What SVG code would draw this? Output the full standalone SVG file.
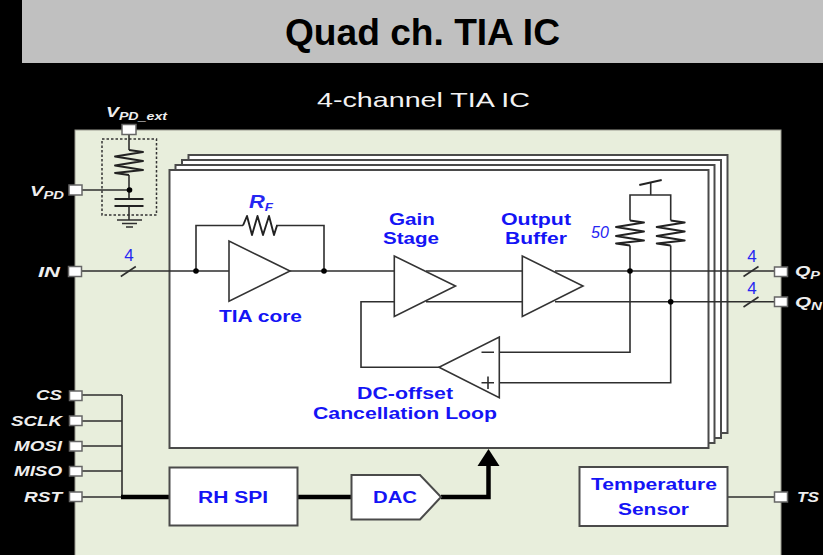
<svg xmlns="http://www.w3.org/2000/svg" width="823" height="555" viewBox="0 0 823 555">
<defs>
<style>
text{font-family:"Liberation Sans",Arial,sans-serif}
.w{fill:none;stroke:#2e2e2e;stroke-width:1.6}
.r{fill:none;stroke:#222;stroke-width:1.9;stroke-linejoin:round}
.t{fill:none;stroke:#000;stroke-width:4.500}
.box{fill:#fff;stroke:#4a4a4a;stroke-width:2}
.amp{fill:#fff;stroke:#333;stroke-width:1.6}
.pad{fill:#fff;stroke:#666;stroke-width:1.5}
.b{fill:#1414f5;font-weight:bold;font-size:16px;text-anchor:middle}
.bi{fill:#2626f2;font-size:17px;text-anchor:middle}
.l{fill:#eee;font-weight:bold;font-style:italic;font-size:14px;text-anchor:end}
.ls{fill:#eee;font-weight:bold;font-style:italic;font-size:15px}
.s{font-size:11px}
.d{fill:#000}
</style>
<path id="res" class="r" d="M0 -12.500L14 -10.500L-14 -6L14 -1.500L-14 3L14 7.500L-14 10.500L0 12.500"/>
<path id="tick" class="w" d="M-7.500 5L7.500 -5"/>
</defs>
<rect width="823" height="555" fill="#000"/>
<rect id="title-bar" x="22" y="0" width="801" height="63" fill="#c0c0c0"/>
<text x="422.500" y="45" font-size="36" font-weight="bold" text-anchor="middle" fill="#000" textLength="275" lengthAdjust="spacingAndGlyphs">Quad ch. TIA IC</text>
<text x="423.500" y="107" font-size="21" text-anchor="middle" fill="#f2f2f2" textLength="213" lengthAdjust="spacingAndGlyphs">4-channel TIA IC</text>
<rect id="chip" x="75" y="130" width="706" height="426" fill="#e8eedc" stroke="#9a9a90" stroke-width="1"/>

<g id="channel-stack">
<rect class="box" x="188.500" y="155" width="539" height="278"/>
<rect class="box" x="182" y="160" width="539" height="278"/>
<rect class="box" x="175.500" y="165" width="539" height="278"/>
<rect class="box" x="169.500" y="170" width="539" height="278"/>
</g>

<g id="connectors">
<path class="w" d="M81 271H395M426 271H522M555 271H775"/>
<path class="w" d="M81 190H129"/>
<path class="w" d="M196 271V225.500H243M276 225.500H324V271"/>
<path class="w" d="M395 301.700H361V367.300H440M499 352.300H630V271M499 382.700H670.700V301.700M426 301.700H522M555 301.700H775"/>
<path class="w" d="M630 220.500V195H670.700V220.500M630 245.500V271M670.700 245.500V301.700M650.700 195V183"/>
<path class="r" d="M639.300 185L661.700 180"/>
<path class="w" d="M81 395H122M81 421H122M81 446H122M81 471H122M81 497H122M122 395V497"/>
<path class="w" d="M727 497H775"/>
<path class="t" d="M121 497H170M296 497H352M441 497H488.500V464"/>
<path d="M488.500 449L499.500 466H477.500Z" fill="#000"/>
<circle class="d" cx="196" cy="271" r="2.800"/>
<circle class="d" cx="324" cy="271" r="2.800"/>
<circle class="d" cx="630" cy="271" r="2.800"/>
<circle class="d" cx="670.700" cy="301.700" r="2.800"/>
<use href="#tick" x="128.300" y="271.500"/>
<use href="#tick" x="751" y="271.500"/>
<use href="#tick" x="751" y="302"/>
</g>

<g id="vpd-filter">
<rect x="102" y="139" width="54.500" height="76" fill="none" stroke="#333" stroke-width="1.500" stroke-dasharray="2.500 2"/>
<path class="w" d="M129 134V150M129 175V199M129 206V220"/>
<use href="#res" x="129" y="162.500"/>
<path class="r" d="M114.500 199H143.500M114.500 206H143.500"/>
<path class="w" d="M117 220H142M122 223.500H137M126 227H133"/>
<circle class="d" cx="129.500" cy="190" r="2.800"/>
</g>

<g id="rf"><path class="r" d="M243 225.500L247 216L252 235L257.500 216L263 235L269 216L274 235L277 225.500"/><text x="261" y="208" class="bi" style="font-weight:bold;font-style:italic;font-size:18px" textLength="24" lengthAdjust="spacingAndGlyphs">R<tspan class="s" dy="3">F</tspan></text></g>
<g id="r-p"><use href="#res" x="630" y="233"/></g>
<g id="r-n"><use href="#res" x="670.700" y="233"/></g>
<text x="600" y="238" class="bi" style="font-style:italic;font-size:16px">50</text>

<g id="tia-core"><path class="amp" d="M229 241V301.300L290 271Z"/><text x="260.500" y="322" class="b" textLength="83" lengthAdjust="spacingAndGlyphs">TIA core</text></g>
<g id="gain-stage"><path class="amp" d="M394.300 256V316.500L455.500 286Z"/><text x="412" y="225" class="b" textLength="46" lengthAdjust="spacingAndGlyphs">Gain</text><text x="411" y="244" class="b" textLength="56" lengthAdjust="spacingAndGlyphs">Stage</text></g>
<g id="output-buffer"><path class="amp" d="M522.300 256V316.500L583 286Z"/><text x="536" y="225" class="b" textLength="70" lengthAdjust="spacingAndGlyphs">Output</text><text x="536" y="244" class="b" textLength="62" lengthAdjust="spacingAndGlyphs">Buffer</text></g>
<g id="dc-offset"><path class="amp" d="M499.300 337V397.700L439 367.300Z"/><path class="w" d="M481.500 352.300H494M481.500 382.700H494M488 376.500V389"/><text x="405" y="399" class="b" textLength="96" lengthAdjust="spacingAndGlyphs">DC-offset</text><text x="405" y="419" class="b" textLength="184" lengthAdjust="spacingAndGlyphs">Cancellation Loop</text></g>
<g id="rh-spi"><rect class="box" x="169.500" y="467.500" width="128" height="58"/><text x="233" y="503" class="b" textLength="70" lengthAdjust="spacingAndGlyphs">RH SPI</text></g>
<g id="dac"><path class="box" d="M351.500 475H420L441 497L420 519.500H351.500Z"/><text x="395" y="503" class="b" textLength="44" lengthAdjust="spacingAndGlyphs">DAC</text></g>
<g id="temp-sensor"><rect class="box" x="579.500" y="467" width="148" height="59"/><text x="654" y="490" class="b" textLength="126" lengthAdjust="spacingAndGlyphs">Temperature</text><text x="653.500" y="515" class="b" textLength="71" lengthAdjust="spacingAndGlyphs">Sensor</text></g>

<g id="pins">
<g id="pin-vpd-ext"><rect class="pad" x="122" y="124.500" width="14" height="10"/><text x="106" y="117" class="ls" textLength="61" lengthAdjust="spacingAndGlyphs">V<tspan class="s" dy="3">PD_ext</tspan></text></g>
<g id="pin-vpd"><rect class="pad" x="69" y="185" width="13" height="10"/><text x="30" y="196" class="ls" textLength="34" lengthAdjust="spacingAndGlyphs">V<tspan class="s" dy="3">PD</tspan></text></g>
<g id="pin-in"><rect class="pad" x="68.500" y="266.500" width="13" height="10"/><text x="60" y="277" class="l" textLength="22" lengthAdjust="spacingAndGlyphs">IN</text></g>
<g id="pin-cs"><rect class="pad" x="69.500" y="391" width="12.500" height="9.500"/><text x="62" y="400" class="l" textLength="26" lengthAdjust="spacingAndGlyphs">CS</text></g>
<g id="pin-sclk"><rect class="pad" x="69.500" y="416" width="12.500" height="9.500"/><text x="62" y="426" class="l" textLength="51" lengthAdjust="spacingAndGlyphs">SCLK</text></g>
<g id="pin-mosi"><rect class="pad" x="69.500" y="441.500" width="12.500" height="9.500"/><text x="62" y="451" class="l" textLength="48" lengthAdjust="spacingAndGlyphs">MOSI</text></g>
<g id="pin-miso"><rect class="pad" x="69.500" y="466.500" width="12.500" height="9.500"/><text x="62" y="476" class="l" textLength="48" lengthAdjust="spacingAndGlyphs">MISO</text></g>
<g id="pin-rst"><rect class="pad" x="69.500" y="492" width="12.500" height="9.500"/><text x="62" y="502" class="l" textLength="38" lengthAdjust="spacingAndGlyphs">RST</text></g>
<g id="pin-qp"><rect class="pad" x="774.500" y="267" width="13" height="9.500"/><text x="795" y="276" class="ls" textLength="25" lengthAdjust="spacingAndGlyphs">Q<tspan class="s" dy="3">P</tspan></text></g>
<g id="pin-qn"><rect class="pad" x="774.500" y="297" width="13" height="9.500"/><text x="795" y="307" class="ls" textLength="27" lengthAdjust="spacingAndGlyphs">Q<tspan class="s" dy="3">N</tspan></text></g>
<g id="pin-ts"><rect class="pad" x="774.500" y="492" width="13" height="10"/><text x="797" y="502" class="ls" textLength="22" lengthAdjust="spacingAndGlyphs">TS</text></g>
</g>
<text x="129" y="261" class="bi">4</text>
<text x="752" y="262" class="bi">4</text>
<text x="752" y="294" class="bi">4</text>
</svg>
